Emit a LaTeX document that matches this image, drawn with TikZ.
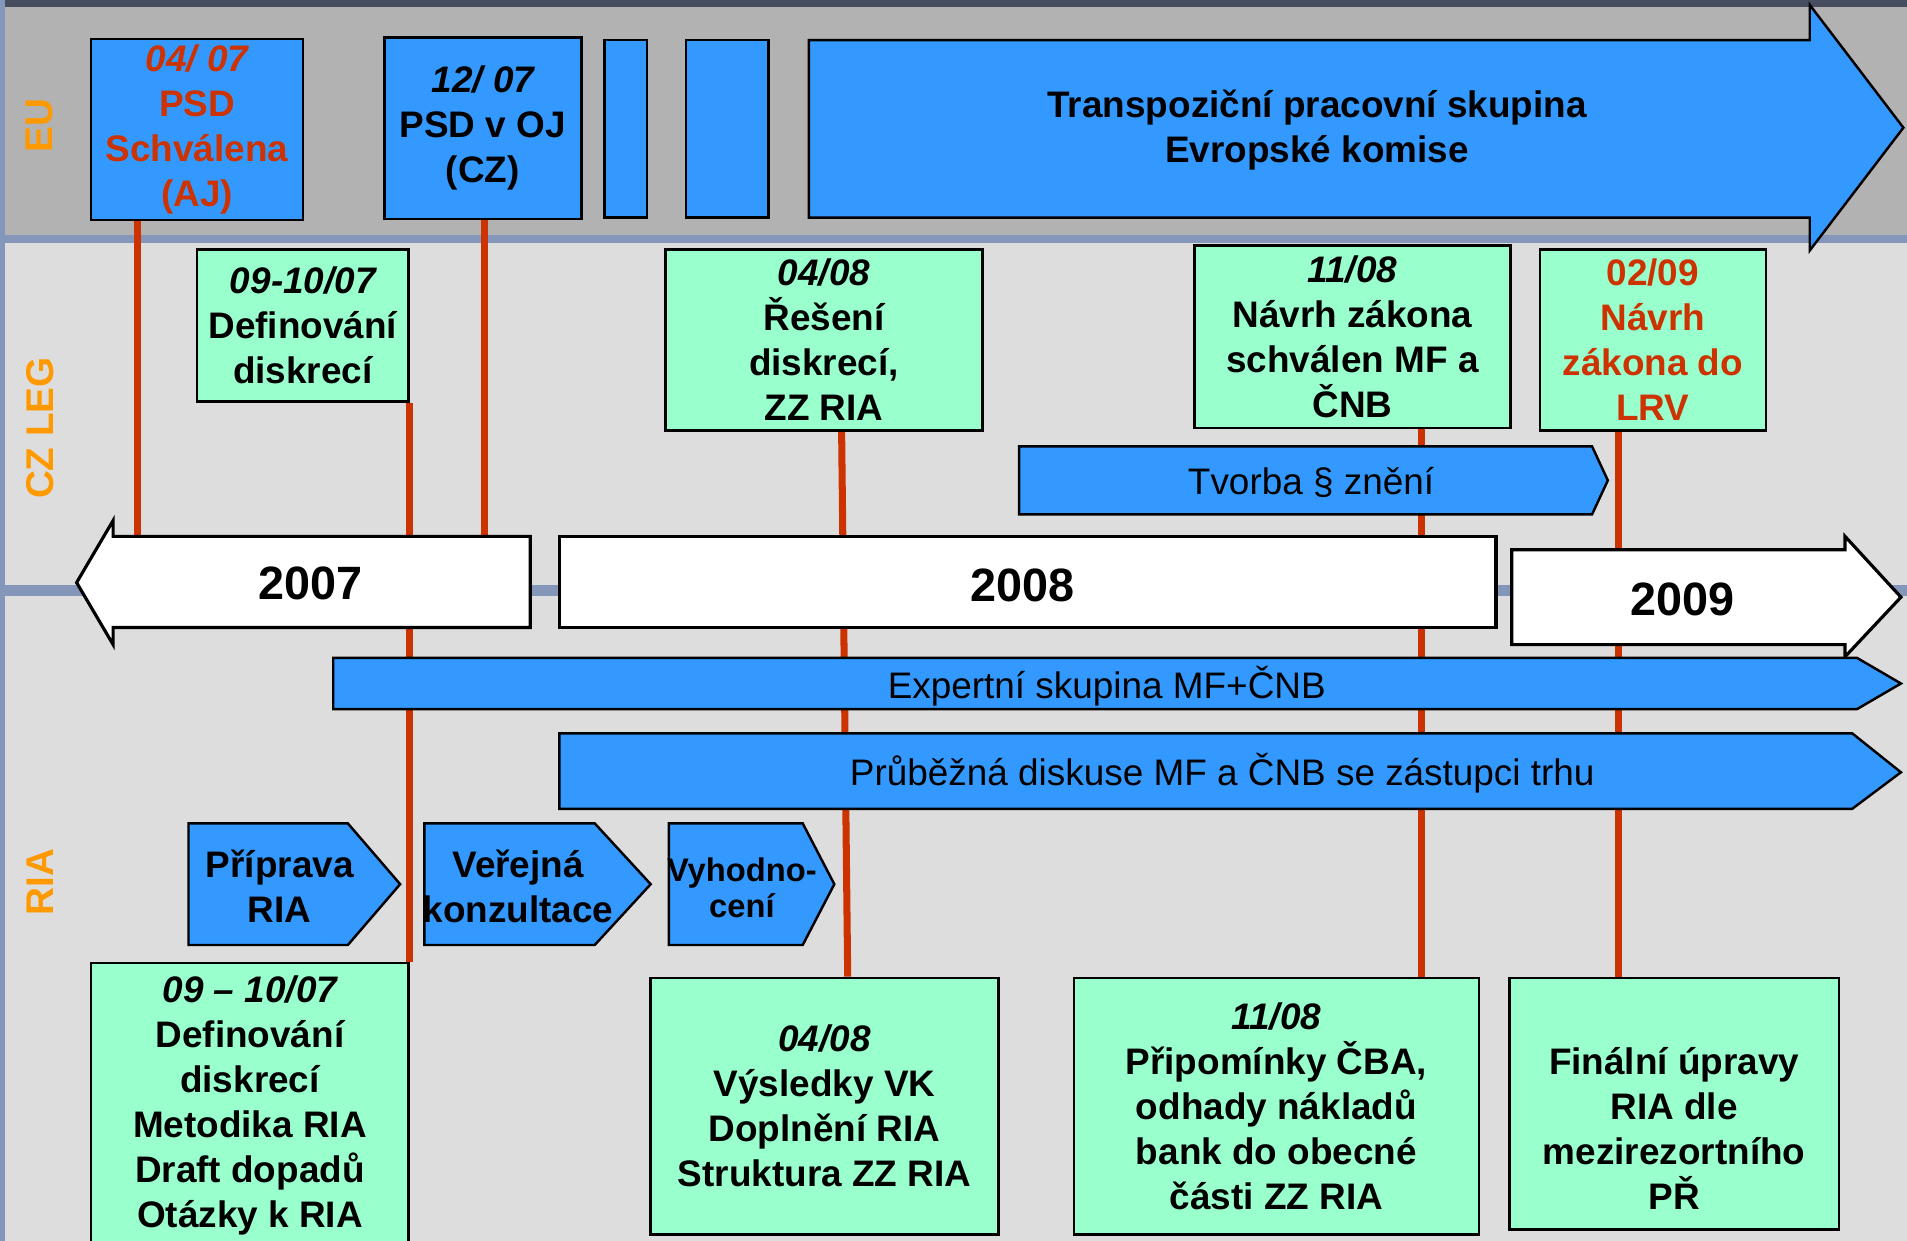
\documentclass[tikz,border=0pt]{standalone}
\usepackage{fontspec}
\setmainfont{Liberation Sans}
\usetikzlibrary{calc}

\definecolor{modra}{RGB}{51,153,255}
\definecolor{mata}{RGB}{153,255,204}
\definecolor{cihla}{RGB}{204,51,0}
\definecolor{oranz}{RGB}{255,153,0}
\definecolor{sedaeu}{RGB}{178,178,178}
\definecolor{sedasv}{RGB}{221,221,221}
\definecolor{pruh}{RGB}{132,150,186}
\definecolor{tmava}{RGB}{70,78,95}

\pgfdeclarelayer{pozadi}
\pgfdeclarelayer{cary}
\pgfsetlayers{pozadi,cary,main}

\newcommand{\pismo}[2]{\fontsize{#1}{#2}\selectfont}

\tikzset{
  vel/.style 2 args={minimum width=#1*0.012162cm, minimum height=#2*0.012162cm},
  ram/.style={draw=black, line width=0.7pt, inner sep=0pt, align=center,
    font=\bfseries\pismo{10.5}{12.8}},
  eubox/.style={ram, fill=modra},
  mintbox/.style={ram, fill=mata},
  tvar/.style={draw=black, line width=0.7pt, fill=modra},
  rokbox/.style={draw=black, line width=0.9pt, fill=white},
  cara/.style={draw=cihla, line width=2pt},
  popis/.style={align=center, font=\bfseries\pismo{10.5}{12.8}},
  tenky/.style={font=\pismo{10.5}{12.8}},
  rok/.style={font=\bfseries\pismo{13.3}{16}},
  radek/.style={rotate=90, text=oranz, font=\bfseries\pismo{11}{13}},
}

\begin{document}
\begin{tikzpicture}[x=0.012162cm, y=-0.012162cm]
\clip (0,0) rectangle (1568,1019.6);
\begin{pgfonlayer}{pozadi}
  \fill[tmava] (0,0) rectangle (1568,6);
  \fill[sedaeu] (0,6) rectangle (1568,193);
  \fill[pruh] (0,193) rectangle (1568,200);
  \fill[sedasv] (0,200) rectangle (1568,481);
  \fill[pruh] (0,481) rectangle (1568,490);
  \fill[sedasv] (0,490) rectangle (1568,1020);
  \fill[pruh] (0,0) rectangle (4,1020);
\end{pgfonlayer}

% radky
\node[radek] (leu) at (32,103) {EU};
\node[radek] (lleg) at (33,352) {CZ LEG};
\node[radek] (lria) at (33,725) {RIA};

% EU
\node[eubox, vel={174}{149}, text=cihla] (eupsd) at (162,106.5) {{\itshape 04/ 07}\\PSD\\Schválena\\(AJ)};
\node[eubox, vel={162}{149}] (eupoj) at (397,105.5) {{\itshape 12/ 07}\\PSD v OJ\\(CZ)};
\node[eubox, vel={35}{146}] (eumaly) at (514.5,106) {};
\node[eubox, vel={68}{146}] (eustred) at (598,106) {};
\draw[tvar] (665,33) -- (1488,33) -- (1488,4) -- (1565,105) -- (1488,206) -- (1488,179) -- (665,179) -- cycle;
\node[popis] (transp) at (1083,107) {Transpoziční pracovní skupina\\Evropské komise};

% CZ LEG
\node[mintbox, vel={174}{125}] (czdef) at (249,267.5) {{\itshape 09-10/07}\\Definování\\diskrecí};
\node[mintbox, vel={261}{149}] (czres) at (677.5,279.5) {{\itshape 04/08}\\Řešení\\diskrecí,\\ZZ RIA};
\node[mintbox, vel={260}{150}] (cznavrh) at (1112,277) {{\itshape 11/08}\\Návrh zákona\\schválen MF a\\ČNB};
\node[mintbox, vel={186}{149}, text=cihla] (czlrv) at (1359,279.5) {02/09\\Návrh\\zákona do\\LRV};
\draw[tvar] (838,367) -- (1309,367) -- (1322,395) -- (1309,423) -- (838,423) -- cycle;
\node[tenky] (tvorba) at (1078,397) {Tvorba § znění};

% roky
\draw[rokbox] (436,441) -- (93,441) -- (93,428) -- (63,479) -- (93,530) -- (93,516) -- (436,516) -- cycle;
\node[rok] (r2007) at (255,480) {2007};
\node[rokbox, vel={770}{75}] (r2008) at (845,478.5) {};
\node[rok] (t2008) at (841,481) {2008};
\draw[rokbox] (1243,452) -- (1517,452) -- (1517,441) -- (1563,491) -- (1517,540) -- (1517,530) -- (1243,530) -- cycle;
\node[rok] (r2009) at (1383,493) {2009};

% RIA
\draw[tvar] (274,541) -- (1527,541) -- (1563,562) -- (1527,583) -- (274,583) -- cycle;
\node[tenky] (expert) at (910,564) {Expertní skupina MF+ČNB};
\draw[tvar] (460,603) -- (1523,603) -- (1563,635) -- (1523,665) -- (460,665) -- cycle;
\node[tenky] (diskuse) at (1005,636) {Průběžná diskuse MF a ČNB se zástupci trhu};
\foreach \a/\b/\c in {155/286/329, 349/489/535, 550/660/686}
  \draw[tvar] (\a,677) -- (\b,677) -- (\c,727) -- (\b,777) -- (\a,777) -- cycle;
\node[popis] (priprava) at (230,729) {Příprava\\RIA};
\node[popis] (konzult) at (426,729) {Veřejná\\konzultace};
\node[popis, font=\bfseries\pismo{9.3}{10.4}] (vyhod) at (610,730) {Vyhodno-\\cení};

\node[mintbox, vel={261}{234}] (riadef) at (205.5,909) {{\itshape 09 – 10/07}\\Definování\\diskrecí\\Metodika RIA\\Draft dopadů\\Otázky k RIA};
\node[mintbox, vel={286}{211}] (riavk) at (678,909.5) {{\itshape 04/08}\\Výsledky VK\\Doplnění RIA\\Struktura ZZ RIA};
\node[mintbox, vel={333}{211}] (riacba) at (1049.5,909.5) {{\itshape 11/08}\\Připomínky ČBA,\\odhady nákladů\\bank do obecné\\části ZZ RIA};
\node[mintbox, vel={271}{207}] (riapr) at (1376.5,907.5) {\strut\\Finální úpravy\\RIA dle\\mezirezortního\\PŘ};

% cary
\begin{pgfonlayer}{cary}
  \draw[cara] (eupsd.south -| 113,0) -- (r2008.north -| 113,0);
  \draw[cara] (eupoj.south -| 398,0) -- (r2008.north -| 398,0);
  \draw[cara] (czdef.south east) -- (riadef.north east);
  \draw[cara] (czres.south -| 692,0) -- (riavk.north -| 697,0);
  \draw[cara] (cznavrh.south -| 1169,0) -- (riacba.north -| 1169,0);
  \draw[cara] (czlrv.south -| 1331,0) -- (riapr.north -| 1331,0);
\end{pgfonlayer}
\end{tikzpicture}
\end{document}
